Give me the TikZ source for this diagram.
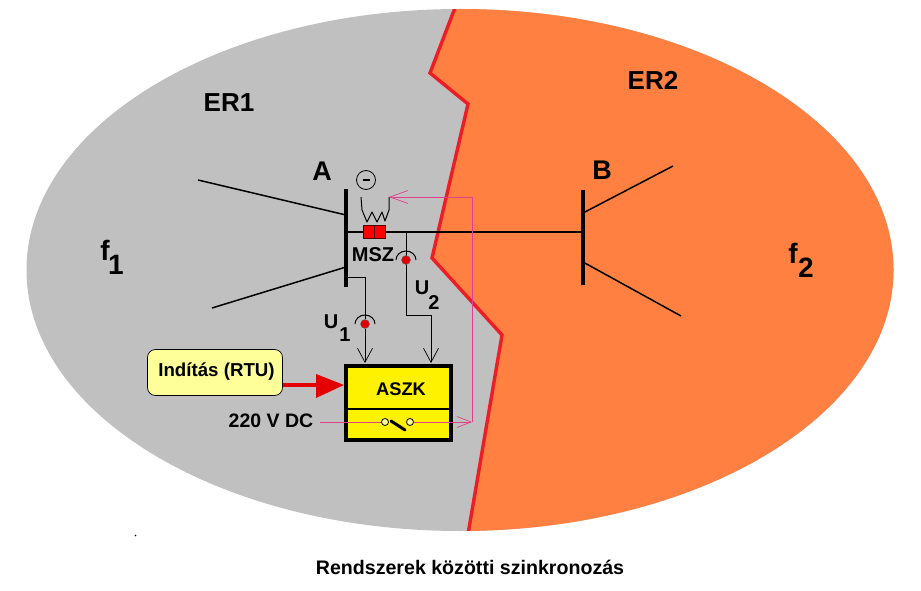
\documentclass[tikz,border=0pt]{standalone}
\usepackage{fontspec}
\setmainfont{Liberation Sans}
\definecolor{grayarea}{HTML}{C0C0C0}
\definecolor{orangearea}{HTML}{FF8040}
\definecolor{boundary}{HTML}{EE1C25}
\definecolor{pinkline}{HTML}{E0408C}
\definecolor{softyellow}{HTML}{FFFF99}
\definecolor{dotred}{HTML}{E00000}
\usetikzlibrary{arrows.meta}
\tikzset{
 lbl/.style={font=\bfseries\fontsize{#1}{#1}\selectfont,inner sep=0pt},
 blackline/.style={line width=1.5pt,black},
 busbar/.style={line width=4pt,black},
 thin wire/.style={line width=1pt,black},
 wirearrow/.style={thin wire,-{Straight Barb[length=14pt,width=15pt,line width=0.7pt]}},
 pinkwire/.style={line width=1pt,pinkline},
 measdot/.style={circle,fill=dotred,draw=black!60,line width=0.4pt,minimum size=9pt,inner sep=0pt},
 switchpt/.style={circle,draw=black,fill=softyellow,line width=0.8pt,minimum size=7pt,inner sep=0pt},
 breaker/.style={draw=black!70!red,fill=red,line width=1pt,minimum width=11pt,minimum height=13pt,inner sep=0pt},
}
\begin{document}
\begin{tikzpicture}[x=1pt,y=-1pt]
\useasboundingbox (0,0) rectangle (921,591);
\fill[white] (0,0) rectangle (921,591);
% areas
\begin{scope}
\clip (460,270) ellipse [x radius=433.5,y radius=261];
\fill[grayarea] (0,0) rectangle (921,591);
\fill[orangearea] (458,0) -- (430,73) -- (468,104) -- (432,258) -- (502,335) -- (467,540) -- (921,540) -- (921,0) -- cycle;
\draw[boundary,line width=3.4pt] (458,0) -- (430,73) -- (468,104) -- (432,258) -- (502,335) -- (467,540);
\end{scope}
% coordinates
\coordinate (aTop) at (346,189);
\coordinate (aBot) at (346,287);
\coordinate (bTop) at (583,190);
\coordinate (bBot) at (583,285);
\coordinate (aFeedU) at (198,180);
\coordinate (aFeedUe) at (346,215);
\coordinate (aFeedL) at (212,308);
\coordinate (aFeedLe) at (346,267);
\coordinate (bFeedU) at (673,166);
\coordinate (bFeedUe) at (583,213);
\coordinate (bFeedL) at (681,316);
\coordinate (bFeedLe) at (583,262);
\coordinate (lineA) at (346,232);
\coordinate (lineB) at (583,232);
\coordinate (pinkCorner) at (472,197);
\coordinate (pinkBottom) at (472,422);
\coordinate (coilL) at (361,197);
\coordinate (coilR) at (389,197);
\coordinate (dcStart) at (320,422);
% feeders and bars
\draw[blackline] (aFeedU) -- (aFeedUe);
\draw[blackline] (aFeedL) -- (aFeedLe);
\draw[blackline] (bFeedU) -- (bFeedUe);
\draw[blackline] (bFeedL) -- (bFeedLe);
\draw[line width=1.8pt] (lineA) -- (lineB);
\draw[busbar] (aTop) -- (aBot);
\draw[busbar] (bTop) -- (bBot);
% breaker
\node[breaker] (brL) at (369,232) {};
\node[breaker] (brR) at (380,232) {};
% coil and minus
\node[circle,draw=black,line width=0.8pt,minimum size=19pt,inner sep=0pt] (minus) at (366,180) {};
\draw[line width=2pt] (362.5,180) -- (369.5,180);
\draw[thin wire,line join=round] (coilL) -- (362,210) -- (367,222) -- (372,212) -- (377,222) -- (382,212) -- (385,221) -- (389,210) -- (coilR);
% U2
\coordinate (u2c0) at (406,232);
\coordinate (u2c1) at (406,315);
\coordinate (u2c2) at (431,315);
\draw[thin wire] (u2c0) -- (u2c1) -- (u2c2);
\node[measdot] (dotU2) at (406,260) {};
\draw[thin wire] (396,260) arc[start angle=180,end angle=360,x radius=10,y radius=9];
% U1
\coordinate (u1c1) at (348,277);
\coordinate (u1c2) at (365,277);
\node[measdot] (dotU1) at (365,324) {};
\draw[thin wire] (u1c1) -- (u1c2) -- (dotU1);
\draw[thin wire] (355,324) arc[start angle=180,end angle=360,x radius=10,y radius=9];
% ASZK
\node[draw=black,fill=yellow,line width=4pt,minimum width=105pt,minimum height=74pt,inner sep=0pt] (aszk) at (398.5,402.5) {};
\draw[line width=1.4pt] (346,409) -- (451,409);
\node[lbl=18.3] (aszkt) at (401,389) {ASZK};
\draw[wirearrow] (dotU1) -- (365,363);
\draw[wirearrow] (u2c2) -- (431,363);
% pink circuit
\node[switchpt] (sw1) at (385,422) {};
\node[switchpt] (sw2) at (410,422) {};
\draw[pinkwire] (dcStart) -- (sw1);
\draw[line width=3pt,line cap=round] (391,421) -- (405,430);
\draw[pinkwire,-{Straight Barb[length=14pt,width=11pt,line width=0.7pt]}] (sw2) -- (pinkBottom);
\draw[pinkwire] (pinkBottom) -- (pinkCorner);
\draw[pinkwire,-{Straight Barb[length=18pt,width=13pt,line width=0.7pt]}] (pinkCorner) -- (coilR);
% start
\node[draw=black,fill=softyellow,rounded corners=8pt,line width=0.7pt,minimum width=135pt,minimum height=46pt,inner sep=0pt] (start) at (215,372.5) {};
\node[lbl=18.7] at (216.5,372) {Indítás (RTU)};
\draw[red!90!black,line width=3.4pt] (283,385) -- (320,385);
\fill[red!90!black] (316,374) -- (344,385) -- (316,398) -- cycle;
% labels
\node[lbl=26] at (229,103) {ER1};
\node[lbl=26] at (653,80) {ER2};
\node[lbl=27] at (322,171) {A};
\node[lbl=27] at (602,170) {B};
\node[lbl=28] at (105,250) {f};
\node[lbl=28] at (116,265) {1};
\node[lbl=28] at (793,253) {f};
\node[lbl=28] at (806,268) {2};
\node[lbl=20] at (373,255) {MSZ};
\node[lbl=20] at (331,322) {U};
\node[lbl=20] at (345,335) {1};
\node[lbl=20] at (422,288) {U};
\node[lbl=20] at (434,303) {2};
\node[lbl=19.5] at (271,421) {220 V DC};
\node[lbl=19.6] at (470,567) {Rendszerek közötti szinkronozás};
\fill[black] (135.5,535.5) circle (0.8pt);
\end{tikzpicture}
\end{document}
